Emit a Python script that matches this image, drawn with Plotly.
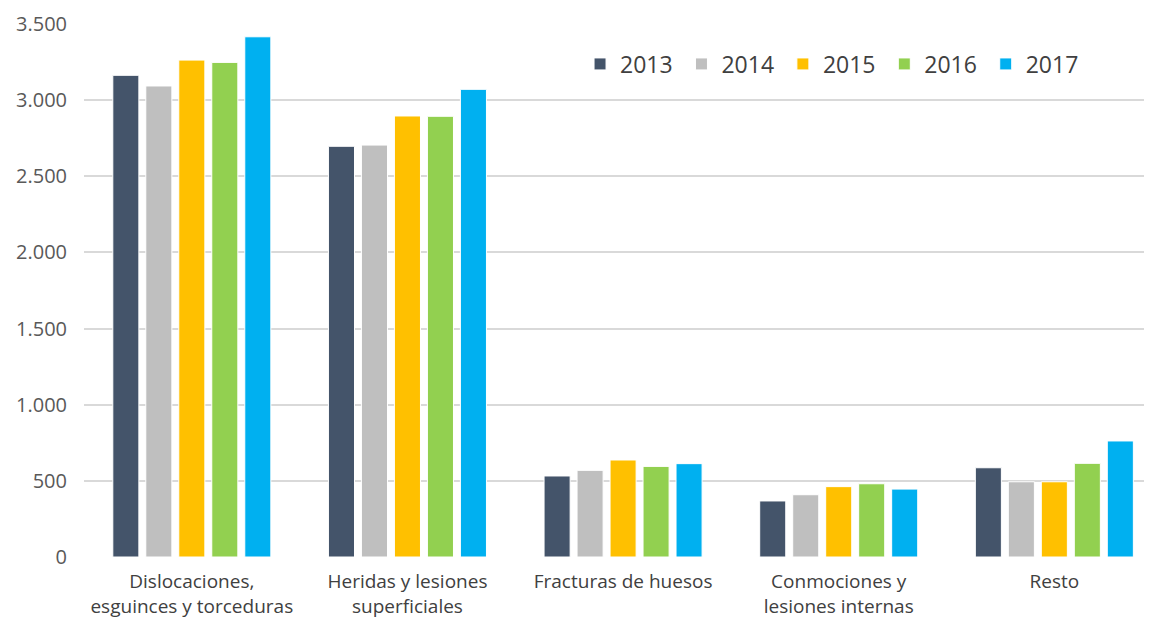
import plotly.graph_objects as go

# categorías del eje X (texto en dos líneas como en el original)
categorias = [
    "Dislocaciones,<br>esguinces y torceduras",
    "Heridas y lesiones<br>superficiales",
    "Fracturas de huesos",
    "Conmociones y<br>lesiones internas",
    "Resto",
]

anios = ["2013", "2014", "2015", "2016", "2017"]

valores_2013 = [3163, 2697, 532, 368, 586]
valores_2014 = [3093, 2705, 569, 409, 494]
valores_2015 = [3263, 2896, 637, 462, 494]
valores_2016 = [3248, 2894, 595, 481, 615]
valores_2017 = [3416, 3071, 613, 446, 762]

colores = ["#44546A", "#BFBFBF", "#FFC000", "#92D050", "#00B0F0"]

y_ticks = [0, 500, 1000, 1500, 2000, 2500, 3000, 3500]

series = [valores_2013, valores_2014, valores_2015, valores_2016, valores_2017]

fig = go.Figure()

for anio, vals, col in zip(anios, series, colores):
    fig.add_trace(go.Bar(
        x=list(range(len(categorias))),
        y=vals,
        name=anio + "\u2009",  # espacio fino para separar un poco más la leyenda
        marker=dict(color=col, line=dict(width=1, color="white")),
    ))

# la página añade 8px de margen al body, se compensa aquí
fig.update_layout(
    width=1152,
    height=620,
    margin=dict(l=76, r=0, t=16, b=71),
    barmode="group",
    bargap=0.235,
    bargroupgap=0.21,
    separators=",.",
    paper_bgcolor="white",
    plot_bgcolor="white",
    font=dict(family="Open Sans, sans-serif", color="#404040", size=19),
    showlegend=True,
    legend=dict(
        orientation="h",
        x=0.461,
        xanchor="left",
        y=0.925,
        yanchor="middle",
        font=dict(size=23, color="#404040"),
        itemwidth=30,
        traceorder="normal",
    ),
    xaxis=dict(
        range=[-0.5, 4.49],
        tickmode="array",
        tickvals=list(range(len(categorias))),
        ticktext=categorias,
        showgrid=False,
        zeroline=False,
        showline=False,
        tickfont=dict(size=19, color="#404040"),
        ticklabelstandoff=11,
    ),
    yaxis=dict(
        range=[0, 3500],
        tickmode="array",
        tickvals=y_ticks,
        tickformat=",d",
        showgrid=True,
        gridcolor="#D9D9D9",
        gridwidth=1.5,
        zeroline=False,
        showline=False,
        tickfont=dict(size=20, color="#595959"),
        ticklabelstandoff=16,
    ),
)

fig.write_html("out.html")
